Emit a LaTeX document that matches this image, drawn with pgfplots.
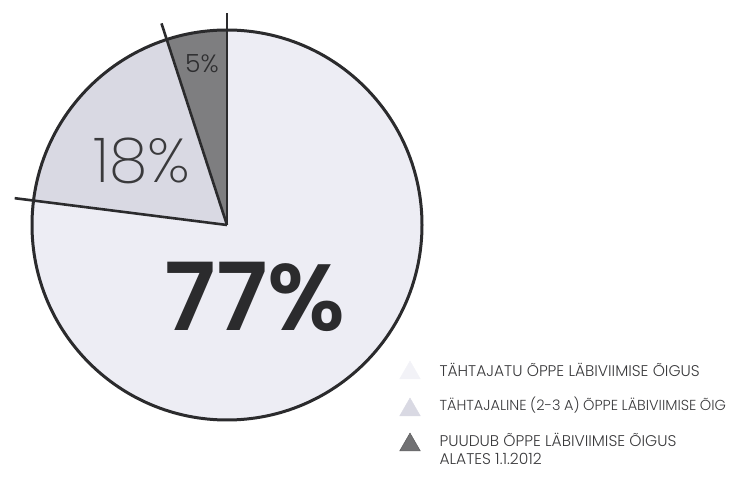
\documentclass[border=0pt]{standalone}
\usepackage{pgfplots}
\pgfplotsset{compat=1.18}
\usepackage{fontspec}
\setmainfont{Poppins}
\newfontfamily\lightfont{Poppins Light}
\newfontfamily\thinfont{Poppins ExtraLight}
\newfontfamily\semifont{Poppins SemiBold}

% shares in percent, counterclockwise from 12 o'clock
\def\vC{5}  % puudub
\def\vB{18} % tähtajaline
\def\vA{77} % tähtajatu
\pgfmathsetmacro\aC{90}
\pgfmathsetmacro\aB{\aC+3.6*\vC}
\pgfmathsetmacro\aA{\aB+3.6*\vB}
\pgfmathsetmacro\aE{\aA+3.6*\vA}

\definecolor{sliceA}{HTML}{EDEDF4}
\definecolor{sliceB}{HTML}{D9D9E3}
\definecolor{sliceC}{HTML}{7E7E80}
\definecolor{edge}{HTML}{2B2B2D}
\definecolor{txt}{HTML}{3A3A3C}

\newcommand\tsp{\hspace{0.24em}}

\begin{document}
\begin{tikzpicture}
\useasboundingbox (0,0) rectangle (729pt,477pt);
\begin{axis}[
  at={(0,0)}, anchor=origin,
  scale only axis, width=729pt, height=477pt,
  xmin=0, xmax=729, ymin=0, ymax=477,
  hide axis, clip=false,
]
% slices
\fill[sliceA] (axis cs:227,252) -- ++(\aA:195pt) arc[start angle=\aA, end angle=\aE, radius=195pt] -- cycle;
\fill[sliceB] (axis cs:227,252) -- ++(\aB:195pt) arc[start angle=\aB, end angle=\aA, radius=195pt] -- cycle;
\fill[sliceC] (axis cs:227,252) -- ++(\aC:195pt) arc[start angle=\aC, end angle=\aB, radius=195pt] -- cycle;
\draw[edge, line width=3pt] (axis cs:227,252) circle[radius=195pt];
\draw[edge, line width=2.6pt] (axis cs:227,252) -- ++(\aC:212pt);
\draw[edge, line width=2.6pt] (axis cs:227,252) -- ++(\aB:212pt);
\draw[edge, line width=2.6pt] (axis cs:227,252) -- ++(\aA:214pt);

% labels
\node[text=edge, font=\semifont\fontsize{94}{94}\selectfont] at (axis cs:255,180) {\vA\%};
\node[text=txt, font=\thinfont\fontsize{62}{62}\selectfont] at (axis cs:142,316) {\vB\%};
\node[text=txt!80!black, font=\lightfont\fontsize{25}{25}\selectfont] at (axis cs:202,413) {\vC\%};

% legend
\addplot[only marks, mark=triangle*, mark size=12pt, mark options={fill=sliceA!70!white, draw=sliceA!70!white}] coordinates {(410,104)};
\addplot[only marks, mark=triangle*, mark size=12pt, mark options={fill=sliceB, draw=sliceB}] coordinates {(410,67)};
\addplot[only marks, mark=triangle*, mark size=12pt, mark options={fill=sliceC!90!black, draw=edge!80!white}] coordinates {(410,32)};
\begin{scope}[every node/.style={anchor=west, text=txt, font=\lightfont\fontsize{15.5}{18}\selectfont}]
\node at (axis cs:436,107) {TÄHTAJATU ÕPPE LÄBIVIIMISE ÕIGUS};
\node[font=\lightfont\fontsize{14.5}{18}\selectfont] at (axis cs:436,72) {TÄHTAJALINE\tsp(2-3\tsp A)\tsp ÕPPE\tsp LÄBIVIIMISE\tsp ÕIG};
\node at (axis cs:436,37) {PUUDUB ÕPPE LÄBIVIIMISE ÕIGUS};
\node at (axis cs:436,18) {ALATES 1.1.2012};
\end{scope}
\end{axis}
\end{tikzpicture}
\end{document}
